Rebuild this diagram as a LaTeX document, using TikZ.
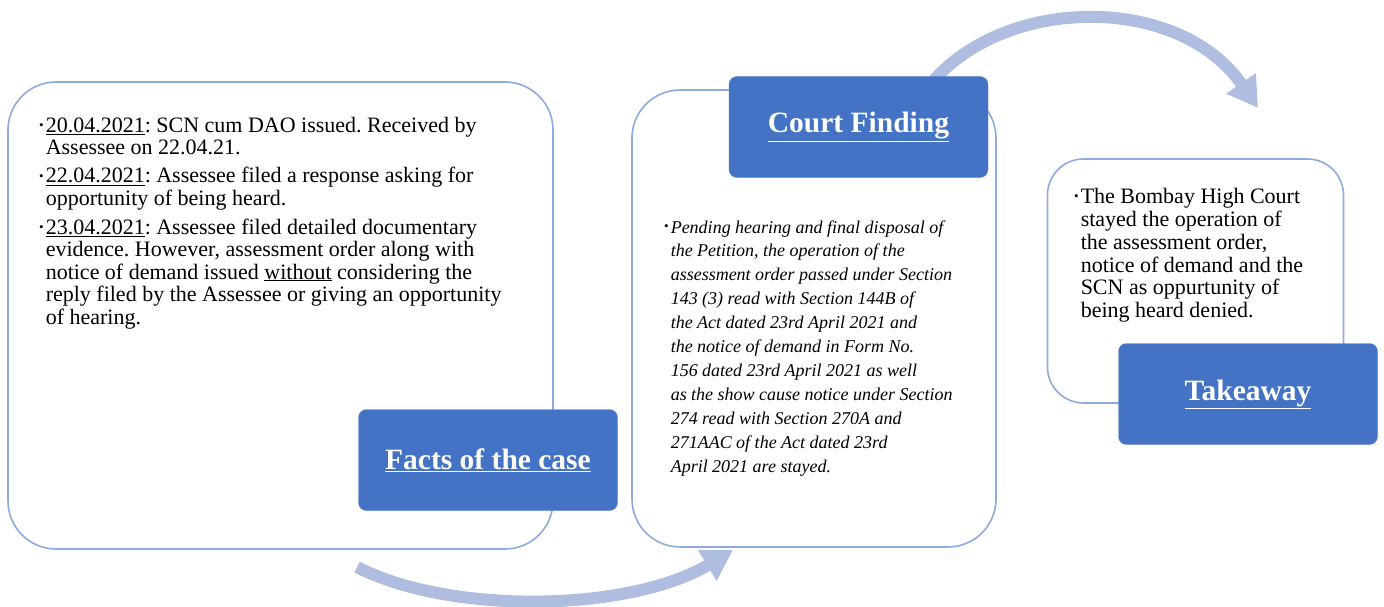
\documentclass[tikz,border=0pt]{standalone}
\usepackage{fontspec}
\setmainfont{Liberation Serif}
\usepackage{tikz}
\usetikzlibrary{arrows.meta}
\frenchspacing
\newcommand{\tagwidth}{259pt}
\newcommand{\tagheight}{101pt}
\newcommand{\blt}{\raisebox{0.25ex}{\fontsize{13}{13}\selectfont\upshape\textbullet}}
\definecolor{boxline}{RGB}{143,170,220}
\definecolor{tagblue}{RGB}{68,114,196}
\definecolor{flowblue}{RGB}{175,189,224}
\tikzset{
  panel/.style={draw=boxline,line width=1.6pt,fill=white,shape=rectangle,rounded corners=48pt,inner sep=0},
  tag/.style={fill=tagblue,draw=tagblue!85!white,shape=rectangle,rounded corners=8pt,minimum width=\tagwidth,minimum height=\tagheight,inner sep=0,text=white,font=\fontsize{29.5}{30}\selectfont\bfseries},
  body/.style={inner sep=0,anchor=base west,font=\fontsize{22}{22.5}\selectfont},
  flow/.style={draw=flowblue,line width=12pt,-{Triangle[length=30pt,width=34pt]}}
}

\begin{document}
\begin{tikzpicture}[x=1pt,y=-1pt]
  \useasboundingbox (0,0) rectangle (1384,607);

  \path [flow] (357,567) .. controls (450,615) and (630,612) .. (733,550);
  \path [flow] (934,80) .. controls (1010,-5) and (1180,-5) .. (1258,108);

  \node (facts) [panel,minimum width=545pt,minimum height=467pt] at (280.5,315.5) {};
  \node (court) [panel,minimum width=364pt,minimum height=457pt] at (814,318.5) {};
  \node (take) [panel,rounded corners=36pt,minimum width=296pt,minimum height=244pt] at (1195.5,281) {};

  \node (factstext) [body] at (39,132) {\begin{tabular}[t]{@{}l@{\hspace{2pt}}l@{}}
    \blt & \underline{20.04.2021}: SCN cum DAO issued. Received by \\
         & Assessee on 22.04.21. \\[6pt]
    \blt & \underline{22.04.2021}: Assessee filed a response asking for \\
         & opportunity of being heard. \\[6pt]
    \blt & \underline{23.04.2021}: Assessee filed detailed documentary \\
         & evidence. However, assessment order along with \\
         & notice of demand issued \underline{without} considering the \\
         & reply filed by the Assessee or giving an opportunity \\
         & of hearing.
  \end{tabular}};

  \node (courttext) [body,font=\fontsize{18}{23.9}\selectfont\itshape] at (664,233) {\begin{tabular}[t]{@{}l@{\hspace{2pt}}l@{}}
    \blt & Pending hearing and final disposal of \\
         & the Petition, the operation of the \\
         & assessment order passed under Section \\
         & 143 (3) read with Section 144B of \\
         & the Act dated 23rd April 2021 and \\
         & the notice of demand in Form No. \\
         & 156 dated 23rd April 2021 as well \\
         & as the show cause notice under Section \\
         & 274 read with Section 270A and \\
         & 271AAC of the Act dated 23rd \\
         & April 2021 are stayed.
  \end{tabular}};

  \node (taketext) [body,font=\fontsize{22}{23}\selectfont] at (1074,203) {\begin{tabular}[t]{@{}l@{\hspace{2pt}}l@{}}
    \blt & The Bombay High Court \\
         & stayed the operation of \\
         & the assessment order, \\
         & notice of demand and the \\
         & SCN as oppurtunity of \\
         & being heard denied.
  \end{tabular}};

  \node (factstag) [tag] at (488,460) {\underline{Facts of the case}};
  \node (courttag) [tag] at (858.5,127) {\underline{Court Finding}};
  \node (taketag) [tag] at (1248,394) {\underline{Takeaway}};
\end{tikzpicture}
\end{document}
